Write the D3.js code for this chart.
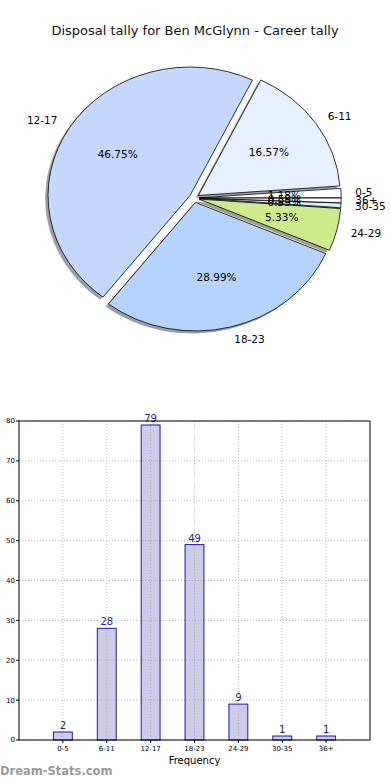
<!DOCTYPE html>
<html><head><meta charset="utf-8">
<script src="https://cdn.jsdelivr.net/npm/d3@7"></script>
<style>body{margin:0;background:#fff}svg{display:block}text{font-family:"DejaVu Sans",sans-serif}</style>
</head><body>
<script>
const title = "Disposal tally for Ben McGlynn - Career tally";
const categories = ["0-5","6-11","12-17","18-23","24-29","30-35","36+"];
const values = [2,28,79,49,9,1,1];
const pieColors = ["#ffffff","#e8f0ff","#c4d8ff","#b4d4ff","#cdeb8b","#d4f2ff","#ffffff"];
const yTicks = [0,10,20,30,40,50,60,70,80];

const W=390,H=780;
const svg=d3.select("body").append("svg").attr("width",W).attr("height",H);

svg.append("text").attr("x",195).attr("y",35).attr("text-anchor","middle")
  .attr("font-size",13).attr("fill","#111").text(title);

// ---- pie ----
const cx=194.2, cy=198, rx=142, ry=128.6, ex=0.035;
const total=d3.sum(values);
const pie=d3.pie().sort(null).value(d=>d).startAngle(0).endAngle(2*Math.PI);
const arcs=pie(values); // angles interpreted as CCW from east
const arcGen=d3.arc().innerRadius(0).outerRadius(1);
function wedgePath(d){return arcGen({startAngle:Math.PI/2-d.endAngle,endAngle:Math.PI/2-d.startAngle});}
function off(d){const m=(d.startAngle+d.endAngle)/2;return [ex*rx*Math.cos(m),-ex*ry*Math.sin(m)];}
const gp=svg.append("g");
arcs.forEach((d,i)=>{
  const [ox,oy]=off(d);
  const c=d3.rgb(pieColors[i]);
  gp.append("path").attr("d",wedgePath(d))
    .attr("transform",`translate(${cx+ox-0.02*rx},${cy+oy+0.02*ry}) scale(${rx},${ry})`)
    .attr("fill",d3.rgb(c.r*0.3,c.g*0.3,c.b*0.3)).attr("opacity",0.5);
});
arcs.forEach((d,i)=>{
  const [ox,oy]=off(d);
  gp.append("path").attr("d",wedgePath(d))
    .attr("transform",`translate(${cx+ox},${cy+oy}) scale(${rx},${ry})`)
    .attr("fill",pieColors[i]).attr("stroke","#000").attr("stroke-width",0.8)
    .attr("vector-effect","non-scaling-stroke");
});
arcs.forEach((d,i)=>{
  const [ox,oy]=off(d);
  const m=(d.startAngle+d.endAngle)/2;
  const lx=cx+ox+1.1*rx*Math.cos(m), ly=cy+oy-1.1*ry*Math.sin(m);
  gp.append("text").attr("x",lx).attr("y",ly).attr("dy","0.35em")
    .attr("text-anchor",Math.cos(m)<0?"end":"start").attr("font-size",10.5).attr("fill","#000")
    .text(categories[i]);
  const px=cx+ox+0.6*rx*Math.cos(m), py=cy+oy-0.6*ry*Math.sin(m);
  gp.append("text").attr("x",px).attr("y",py).attr("dy","0.35em")
    .attr("text-anchor","middle").attr("font-size",10.5).attr("fill","#000")
    .text((values[i]/total*100).toFixed(2)+"%");
});

// ---- bar chart ----
const L=19,R=370,T=421,B=740;
const x=d3.scaleLinear().domain([-1,7]).range([L,R]);
const y=d3.scaleLinear().domain([0,80]).range([B,T]);
const gb=svg.append("g");
// grid
gb.selectAll(".vg").data(categories).join("line")
  .attr("x1",(d,i)=>x(i)).attr("x2",(d,i)=>x(i)).attr("y1",T).attr("y2",B)
  .attr("stroke","#bbb").attr("stroke-width",1).attr("stroke-dasharray","1,2");
gb.selectAll(".hg").data(yTicks).join("line")
  .attr("x1",L).attr("x2",R).attr("y1",d=>y(d)).attr("y2",d=>y(d))
  .attr("stroke","#bbb").attr("stroke-width",1).attr("stroke-dasharray","1,2");
const bw=0.43;
gb.selectAll(".bar").data(values).join("rect")
  .attr("x",(d,i)=>x(i-bw/2)).attr("width",x(bw)-x(0))
  .attr("y",d=>y(d)).attr("height",d=>y(0)-y(d))
  .attr("fill","#ccccea").attr("fill-opacity",1).attr("stroke","#1a1a9a").attr("stroke-width",1);
// re-draw vertical grid over bars (matplotlib grid on top)
gb.selectAll(".vg2").data(values).join("line")
  .attr("x1",(d,i)=>x(i)).attr("x2",(d,i)=>x(i)).attr("y1",d=>y(d)+1).attr("y2",B)
  .attr("stroke","#aaa").attr("stroke-width",1).attr("stroke-dasharray","1,2");
gb.selectAll(".hg2").data(yTicks.filter(t=>t>0)).join("g").each(function(t){
  values.forEach((v,i)=>{ if(v>t){
    d3.select(this).append("line").attr("x1",x(i-bw/2)+1).attr("x2",x(i+bw/2)-1)
      .attr("y1",y(t)).attr("y2",y(t)).attr("stroke","#aaa").attr("stroke-dasharray","1,2");
  }});
});
gb.selectAll(".vl").data(values).join("text")
  .attr("x",(d,i)=>x(i)).attr("y",d=>y(d)-3).attr("text-anchor","middle")
  .attr("font-size",10).attr("fill","#1a1a9a").text(d=>d);
// frame
gb.append("rect").attr("x",L).attr("y",T).attr("width",R-L).attr("height",B-T)
  .attr("fill","none").attr("stroke","#000").attr("stroke-width",1);
// ticks
gb.selectAll(".yt").data(yTicks).join("line").attr("x1",L-3).attr("x2",L).attr("y1",d=>y(d)).attr("y2",d=>y(d)).attr("stroke","#000");
gb.selectAll(".ytl").data(yTicks).join("text").attr("x",L-4).attr("y",d=>y(d)).attr("dy","0.35em")
  .attr("text-anchor","end").attr("font-size",7).attr("fill","#000").text(d=>d);
gb.selectAll(".xt").data(categories).join("line").attr("x1",(d,i)=>x(i)).attr("x2",(d,i)=>x(i)).attr("y1",B).attr("y2",B+3).attr("stroke","#000");
gb.selectAll(".xtl").data(categories).join("text").attr("x",(d,i)=>x(i)).attr("y",B+11)
  .attr("text-anchor","middle").attr("font-size",7).attr("fill","#000").text(d=>d);
gb.append("text").attr("x",(L+R)/2).attr("y",764).attr("text-anchor","middle").attr("font-size",10).attr("fill","#000").text("Frequency");
svg.append("text").attr("x",0).attr("y",775).attr("font-size",11.5).attr("font-weight","bold").attr("fill","#999").text("Dream-Stats.com");
</script>
</body></html>
